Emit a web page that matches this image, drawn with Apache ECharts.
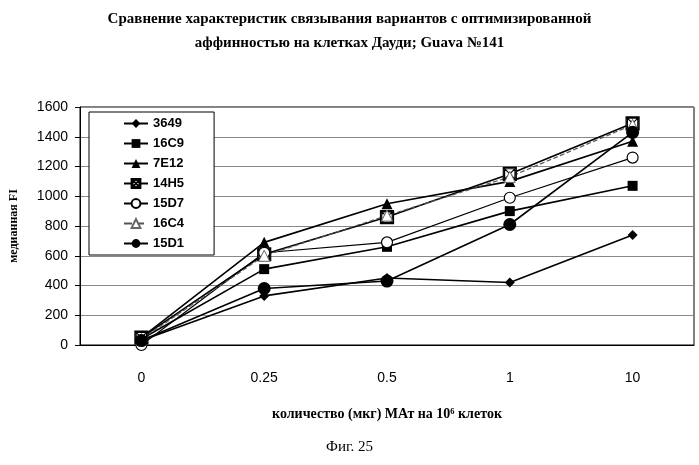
<!DOCTYPE html>
<html><head><meta charset="utf-8">
<script src="https://cdn.jsdelivr.net/npm/echarts@6/dist/echarts.min.js"></script>
<style>html,body{margin:0;background:#fff}#c{width:699px;height:465px}</style>
</head><body><div id="c"></div>
<script>
const categories = ['0', '0.25', '0.5', '1', '10'];
const yTicks = [0, 200, 400, 600, 800, 1000, 1200, 1400, 1600];
const s3649 = [30, 330, 450, 420, 740];
const s16C9 = [40, 510, 660, 900, 1070];
const s7E12 = [50, 690, 950, 1100, 1370];
const s14H5 = [50, 610, 860, 1150, 1490];
const s15D7 = [0, 620, 690, 990, 1260];
const s16C4 = [40, 600, 870, 1130, 1480];
const s15D1 = [30, 380, 430, 810, 1430];

const boxX = 'path://M0,0H10V10H0Z M0,0L10,10 M10,0L0,10 M1,1H9V9H1Z';

function mk(name, data, symbol, size, opts) {
  opts = opts || {};
  return {
    name: name, type: 'line', data: data, symbol: symbol, symbolSize: size,
    lineStyle: { color: opts.lc || '#000', width: opts.w || 1.6, type: opts.dash || 'solid' },
    itemStyle: { color: opts.fill || '#000', borderColor: opts.bc || '#000', borderWidth: opts.bw || 0 }
  };
}

const chart = echarts.init(document.getElementById('c'));
chart.setOption({
  animation: false,
  title: {
    text: 'Сравнение характеристик связывания вариантов с оптимизированной\nаффинностью на клетках Дауди; Guava №141',
    left: 'center', top: 2,
    textStyle: { fontFamily: 'Liberation Serif', fontSize: 15, fontWeight: 'bold', lineHeight: 24, color: '#000' }
  },
  graphic: [{
    type: 'text', left: 'center', top: 440,
    style: { text: 'Фиг. 25', fontFamily: 'Liberation Serif', fontSize: 15, fill: '#000' }
  }],
  legend: {
    orient: 'vertical', left: 89, top: 112, padding: [5, 30, 5, 34],
    backgroundColor: '#fff', borderColor: '#000', borderWidth: 1,
    itemWidth: 24, itemHeight: 11, itemGap: 7,
    textStyle: { fontFamily: 'Liberation Sans', fontWeight: 'bold', fontSize: 13, color: '#000' },
    data: ['3649', '16C9', '7E12', '14H5', '15D7', '16C4', '15D1']
  },
  grid: { left: 80, right: 5, top: 107, bottom: 120, show: true, borderColor: '#000', borderWidth: 1 },
  xAxis: {
    type: 'category', data: categories, boundaryGap: true,
    name: 'количество (мкг) МАт на 10⁶ клеток', nameLocation: 'middle', nameGap: 62,
    nameTextStyle: { fontFamily: 'Liberation Serif', fontWeight: 'bold', fontSize: 14, color: '#000' },
    axisLine: { lineStyle: { color: '#000' } },
    axisTick: { lineStyle: { color: '#000' }, length: 4 },
    axisLabel: { fontFamily: 'Liberation Sans', fontSize: 14, color: '#000', margin: 26 }
  },
  yAxis: {
    type: 'value', min: yTicks[0], max: yTicks[yTicks.length - 1], interval: 200,
    name: 'медианная FI', nameLocation: 'middle', nameGap: 60, nameRotate: 90,
    nameTextStyle: { fontFamily: 'Liberation Serif', fontWeight: 'bold', fontSize: 12, color: '#000' },
    axisLine: { show: true, lineStyle: { color: '#000' } },
    axisTick: { show: true, lineStyle: { color: '#000' } },
    axisLabel: { fontFamily: 'Liberation Sans', fontSize: 14, color: '#000', margin: 12, formatter: v => String(v) },
    splitLine: { lineStyle: { color: '#888', width: 1 } }
  },
  series: [
    mk('3649', s3649, 'diamond', 10),
    mk('16C9', s16C9, 'rect', 10),
    mk('7E12', s7E12, 'triangle', 11),
    mk('14H5', s14H5, boxX, 13, { fill: '#fff', bw: 1.2 }),
    mk('15D7', s15D7, 'circle', 11, { fill: '#fff', bw: 1.2, w: 1.2 }),
    mk('16C4', s16C4, 'triangle', 11, { fill: '#fff', bc: '#666', bw: 1, lc: '#555', dash: 'dashed', w: 1.2 }),
    mk('15D1', s15D1, 'circle', 13)
  ]
});
</script></body></html>
